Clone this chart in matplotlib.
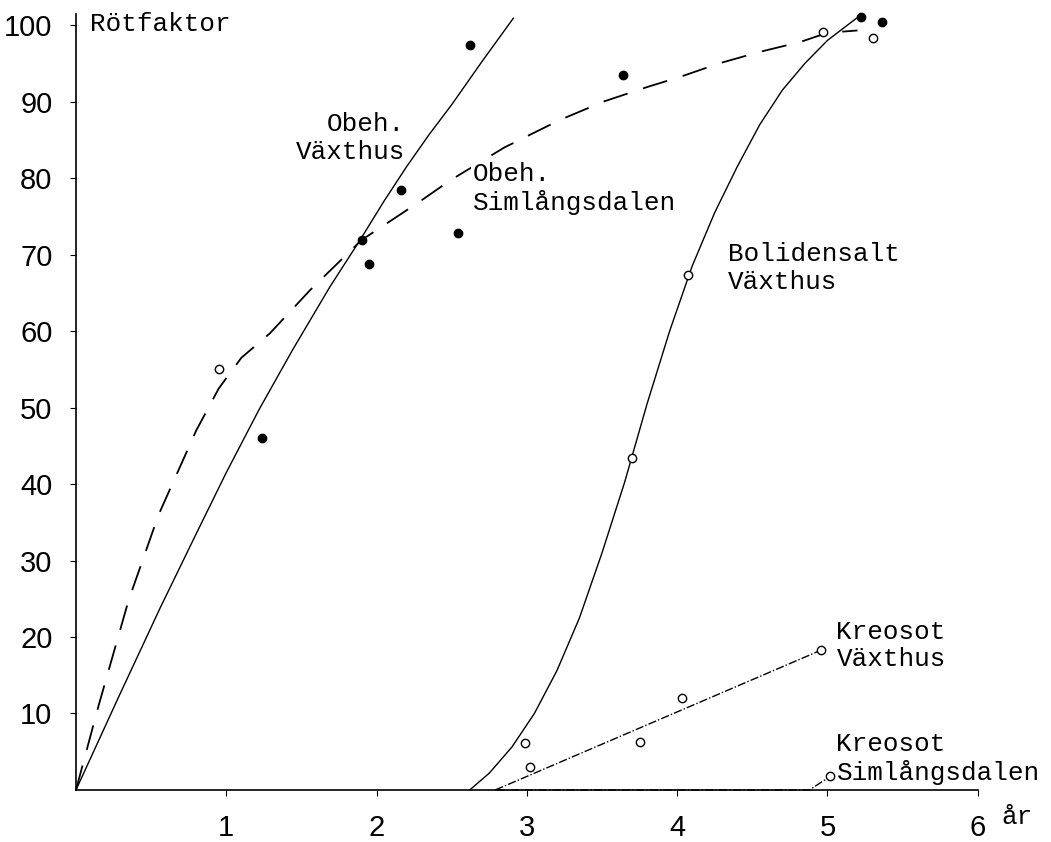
"""Rötfaktor över tid (år) för obehandlat, Bolidensalt och Kreosot."""
import matplotlib
matplotlib.use('Agg')
import matplotlib.pyplot as plt

# hand-drawn curves
obeh_vax_x = [0, 0.28, 0.56, 0.8, 1.0, 1.22, 1.44, 1.69, 1.89, 2.05, 2.2,
              2.35, 2.5, 2.7, 2.91]
obeh_vax_y = [0, 12.0, 23.8, 33.5, 41.5, 49.8, 57.5, 65.8, 71.9, 77, 81.5,
              85.7, 89.6, 95.2, 100.9]
obeh_siml_x = [0, 0.15, 0.35, 0.55, 0.8, 0.95, 1.1, 1.29, 1.56, 1.90, 2.27,
               2.49, 2.85, 3.22, 3.51, 3.80, 4.03, 4.28, 4.55, 4.82, 5.0, 5.2]
obeh_siml_y = [0, 11, 24.8, 36, 47, 52.5, 56.5, 59.7, 65.4, 71.9, 76.7,
               79.7, 84.0, 87.6, 90, 91.9, 93.3, 95, 96.5, 97.8, 99, 99.3]
bolid_x = [2.62, 2.75, 2.90, 3.05, 3.20, 3.35, 3.50, 3.65, 3.80, 3.95,
           4.10, 4.25, 4.40, 4.55, 4.70, 4.85, 5.00, 5.22]
bolid_y = [0, 2.2, 5.6, 10.0, 15.6, 22.5, 31.0, 40.2, 50.5, 60.0,
           68.5, 75.5, 81.5, 87.0, 91.5, 95.0, 98.0, 101.3]
kreo_vax_x = [2.79, 4.96]
kreo_vax_y = [0, 18.3]
kreo_siml_x = [2.8, 4.88, 5.02]
kreo_siml_y = [0, 0, 1.8]

# observed values
filled_x = [1.24, 1.90, 1.95, 2.16, 2.54, 2.62, 3.64, 5.22, 5.36]
filled_y = [46.0, 71.9, 68.8, 78.4, 72.8, 97.4, 93.5, 101.0, 100.4]
open_x = [0.95, 2.99, 3.02, 3.70, 3.75, 4.03, 4.07, 4.96, 4.97, 5.02, 5.30]
open_y = [55.0, 6.1, 3.0, 43.4, 6.3, 12.0, 67.3, 18.3, 99.1, 1.8, 98.3]

x_ticks = [1, 2, 3, 4, 5, 6]
y_ticks = [10, 20, 30, 40, 50, 60, 70, 80, 90, 100]

MONO = 'Liberation Mono'
NUM = 'Liberation Sans'

fig = plt.figure(figsize=(10.51, 8.42), dpi=100)
ax = fig.add_axes([0.0723, 0.0618, 0.858, 0.922])

ax.plot(obeh_vax_x, obeh_vax_y, color='black', lw=1.0, clip_on=False)
ax.plot(obeh_siml_x, obeh_siml_y, color='black', lw=1.3,
        linestyle=(0, (14, 9)), clip_on=False)
ax.plot(bolid_x, bolid_y, color='black', lw=1.0, clip_on=False)
ax.plot(kreo_vax_x, kreo_vax_y, color='black', lw=1.0,
        linestyle=(0, (6, 1.5, 1, 1.5)), clip_on=False)
ax.plot(kreo_siml_x, kreo_siml_y, color='black', lw=1.0,
        linestyle=(0, (6, 1.5, 1, 1.5)), clip_on=False)

ax.plot(filled_x, filled_y, 'o', ms=6, mfc='black', mec='black',
        clip_on=False, zorder=5)
ax.plot(open_x, open_y, 'o', ms=6, mfc='white', mec='black', mew=1.0,
        clip_on=False, zorder=5)

ax.set_xlim(0, 6.0)
ax.set_ylim(0, 101.5)
ax.spines['top'].set_visible(False)
ax.spines['right'].set_visible(False)
ax.spines['left'].set_linewidth(1.2)
ax.spines['bottom'].set_linewidth(1.2)

ax.set_xticks(x_ticks)
ax.set_xticklabels([str(t) for t in x_ticks], family=NUM, fontsize=21)
ax.set_yticks(y_ticks)
ax.set_yticklabels([str(t) for t in y_ticks], family=NUM, fontsize=21)
ax.tick_params(axis='x', length=4, width=0.8, pad=13)
ax.tick_params(axis='y', length=4, width=0.8, pad=13)

txt = dict(family=MONO, fontsize=18.7, color='black', linespacing=1.2)
ax.text(0.093, 100.1, 'Rötfaktor', ha='left', va='center', **txt)
ax.text(2.19, 85.2, 'Obeh.\nVäxthus', ha='right', va='center',
        multialignment='right', **txt)
ax.text(2.64, 78.7, 'Obeh.\nSimlångsdalen', ha='left', va='center',
        bbox=dict(facecolor='white', edgecolor='none', pad=1), **txt)
ax.text(4.34, 68.2, 'Bolidensalt\nVäxthus', ha='left', va='center', **txt)
ax.text(5.06, 18.9, 'Kreosot\nVäxthus', ha='left', va='center', **txt)
ax.text(5.06, 4.05, 'Kreosot\nSimlångsdalen', ha='left', va='center',
        clip_on=False, **txt)
ax.text(6.26, -3.5, 'år', ha='center', va='center', clip_on=False, **txt)

fig.savefig('out.png', dpi=100)
